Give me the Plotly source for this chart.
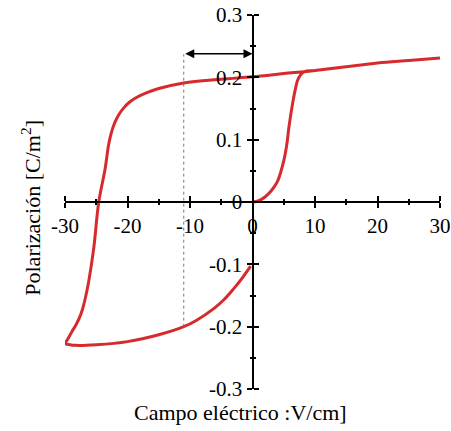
import plotly.graph_objects as go

# Hysteresis loop: virgin curve (0 -> 30), upper branch (30 -> -30), lower branch (-30 -> 0)
E_virgin = [0, 1, 2, 3, 4, 5, 5.5, 5.8, 6.2, 6.5, 6.9, 7.2, 7.7, 8.3, 10, 15, 20, 25, 30]
P_virgin = [0, 0.002, 0.008, 0.018, 0.033, 0.066, 0.093, 0.118, 0.145, 0.163, 0.183, 0.195, 0.204, 0.209, 0.211, 0.217, 0.223, 0.227, 0.231]

E_upper = [30, 25, 20, 15, 10, 5, 0, -5, -11, -15, -17, -18.5, -19.7, -20.6, -21.4, -22, -22.5, -23, -23.6, -24.6, -25.4, -26.2, -26.7, -27.2, -27.7, -28.3, -28.9, -29.5, -29.9]
P_upper = [0.231, 0.227, 0.223, 0.217, 0.211, 0.206, 0.201, 0.197, 0.191, 0.182, 0.175, 0.168, 0.160, 0.151, 0.140, 0.128, 0.114, 0.093, 0.052, 0.0, -0.074, -0.127, -0.152, -0.172, -0.186, -0.198, -0.208, -0.219, -0.227]

E_lower = [-29.9, -29.2, -28.3, -25, -20, -15, -11, -9, -6.2, -4.5, -3, -1.5, -0.3]
P_lower = [-0.227, -0.229, -0.230, -0.229, -0.224, -0.213, -0.200, -0.190, -0.171, -0.156, -0.139, -0.120, -0.103]

x_ticks = [-30, -20, -10, 0, 10, 20, 30]
y_ticks = [-0.3, -0.2, -0.1, 0, 0.1, 0.2, 0.3]
x_tick_text = ["-30", "-20", "-10", "0", "10", "20", "30"]
y_tick_text = ["-0.3", "-0.2", "-0.1", "0", "0.1", "0.2", "0.3"]

coercive_mark = -11      # dashed guide position
arrow_level = 0.238
guide_top = 0.237
guide_bottom = -0.200

x_title = "Campo eléctrico :V/cm]"
y_title = "Polarización [C/m<sup>2</sup>]"

E_all = E_virgin + E_upper[1:] + E_lower[1:]
P_all = P_virgin + P_upper[1:] + P_lower[1:]

red = "#d72a2e"
font_serif = "Liberation Serif"

fig = go.Figure()
fig.add_trace(go.Scatter(x=E_all, y=P_all, mode="lines",
                         line=dict(color=red, width=3, shape="spline", smoothing=1.0),
                         showlegend=False, hoverinfo="skip"))
# invisible trace to bind secondary axes
fig.add_trace(go.Scatter(x=[-30, 30], y=[-0.3, 0.3], xaxis="x2", yaxis="y2",
                         mode="markers", marker=dict(opacity=0), showlegend=False, hoverinfo="skip"))

axis_common = dict(showgrid=False, zeroline=False, showline=True, linecolor="black", linewidth=2,
                   ticks="outside", tickcolor="black", tickwidth=2, ticklen=5, automargin=False)

fig.update_layout(
    width=451, height=431,
    margin=dict(l=65, r=11, t=15, b=42, autoexpand=False),
    plot_bgcolor="white", paper_bgcolor="white",
    font=dict(family=font_serif, size=21, color="black"),
    xaxis=dict(range=[-30, 30], anchor="free", position=0.5, tickvals=x_ticks, ticktext=x_tick_text,
               minor=dict(dtick=5, tick0=0, ticks="outside", ticklen=2, tickwidth=2, tickcolor="black"),
               tickfont=dict(size=21, family=font_serif), **axis_common),
    yaxis=dict(range=[-0.3, 0.3], anchor="free", position=0.5, tickvals=y_ticks, ticktext=y_tick_text,
               minor=dict(dtick=0.05, tick0=0, ticks="outside", ticklen=2, tickwidth=2, tickcolor="black"),
               tickfont=dict(size=21, family=font_serif), **axis_common),
    xaxis2=dict(range=[-30, 30], overlaying="x", side="top", anchor="free", position=0.5,
                tickvals=x_ticks, showticklabels=False,
                minor=dict(dtick=5, tick0=0, ticks="outside", ticklen=2, tickwidth=2, tickcolor="black"),
                **axis_common),
    yaxis2=dict(range=[-0.3, 0.3], overlaying="y", side="right", anchor="free", position=0.5,
                tickvals=y_ticks, showticklabels=False,
                minor=dict(dtick=0.05, tick0=0, ticks="outside", ticklen=2, tickwidth=2, tickcolor="black"),
                **axis_common),
)

fig.add_shape(type="line", x0=coercive_mark, x1=coercive_mark, y0=guide_bottom, y1=guide_top,
              xref="x", yref="y", line=dict(color="#777777", width=1, dash="dot"))
fig.add_annotation(x=0, y=arrow_level, ax=coercive_mark, ay=arrow_level, xref="x", yref="y",
                   axref="x", ayref="y", text="", showarrow=True, arrowhead=2, arrowside="end+start",
                   arrowsize=1.2, arrowwidth=1.5, arrowcolor="black")

fig.add_annotation(text=x_title, x=0.467, y=-0.062, xref="paper", yref="paper", showarrow=False,
                   font=dict(size=22, family=font_serif), yanchor="middle", xanchor="center")
fig.add_annotation(text=y_title, x=-0.093, y=0.485, xref="paper", yref="paper", showarrow=False,
                   textangle=-90, font=dict(size=22, family=font_serif), xanchor="center", yanchor="middle")

fig.write_html("out.html")
